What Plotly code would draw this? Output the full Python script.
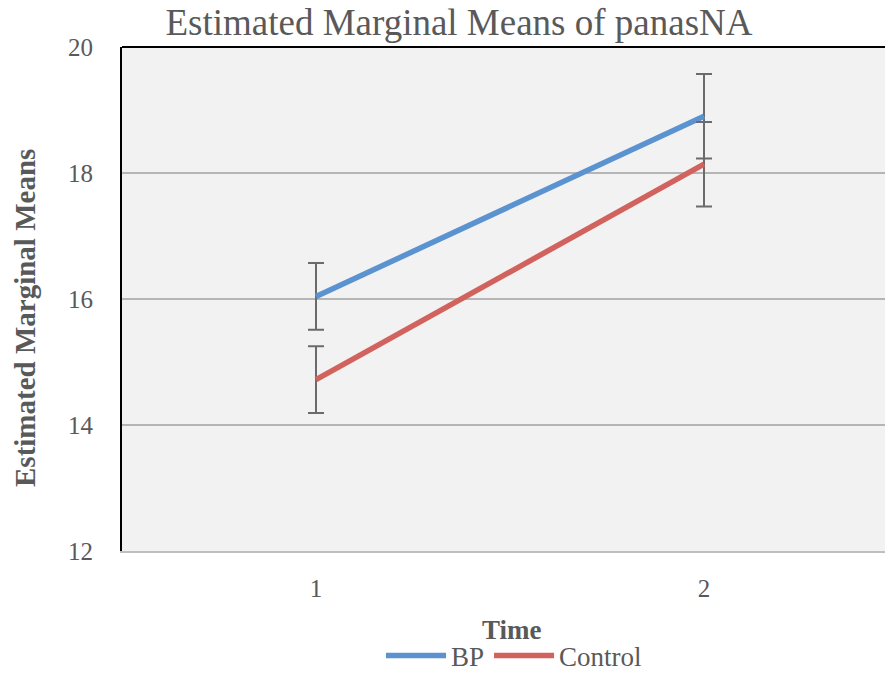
import plotly.graph_objects as go

# Estimated marginal means of panasNA by time and group
times = [1, 2]
time_labels = ["1", "2"]
bp_means = [16.04, 18.90]
bp_err = [0.53, 0.67]
control_means = [14.72, 18.14]
control_err = [0.53, 0.67]
y_ticks = [12, 14, 16, 18, 20]

FONT = "Liberation Serif"
TEXT_COLOR = "#595959"
ERR_COLOR = "#6b6b6b"

fig = go.Figure()

fig.add_trace(go.Scatter(
    x=times, y=bp_means, name="BP", mode="lines",
    line=dict(color="#5B92D0", width=5.5),
    error_y=dict(type="data", array=bp_err, color=ERR_COLOR, thickness=2, width=8),
))
fig.add_trace(go.Scatter(
    x=times, y=control_means, name="Control", mode="lines",
    line=dict(color="#D2625D", width=5.5),
    error_y=dict(type="data", array=control_err, color=ERR_COLOR, thickness=2, width=8),
))

fig.update_layout(
    width=885, height=675,
    margin=dict(l=122, r=0, t=47, b=124, autoexpand=False),
    paper_bgcolor="white",
    plot_bgcolor="#F2F2F2",
    font=dict(family=FONT, color=TEXT_COLOR, size=25),
    title=dict(
        text="Estimated Marginal Means of panasNA",
        font=dict(family=FONT, size=37, color=TEXT_COLOR),
        x=459 / 885, xanchor="center", xref="container",
        y=1 - 22 / 675, yanchor="middle", yref="container",
    ),
    showlegend=True,
    legend=dict(
        orientation="h", x=514 / 885, xanchor="center", xref="container",
        y=1 - 656 / 675, yanchor="middle", yref="container",
        font=dict(family=FONT, size=27, color=TEXT_COLOR),
        bgcolor="rgba(0,0,0,0)", itemwidth=60, tracegroupgap=0,
    ),
)

fig.update_xaxes(
    range=[0.5, 0.5 + 763 / 388],
    tickmode="array", tickvals=times, ticktext=time_labels,
    showgrid=False, zeroline=False,
    showline=True, linecolor="#BFBFBF", linewidth=2,
    ticks="", ticklabelstandoff=14, automargin=False,
    tickfont=dict(family=FONT, size=25, color=TEXT_COLOR),
)
fig.update_yaxes(
    range=[12, 20], tickmode="array", tickvals=y_ticks,
    showgrid=True, gridcolor="#B5B5B5", gridwidth=1.5,
    zeroline=False,
    showline=True, linecolor="black", linewidth=2,
    ticks="", ticklabelstandoff=22, automargin=False,
    tickfont=dict(family=FONT, size=25, color=TEXT_COLOR),
)

# top border of the plotting area
fig.add_shape(type="line", xref="paper", yref="paper", x0=0, x1=1, y0=1, y1=1,
              line=dict(color="black", width=2))

# axis titles
fig.add_annotation(
    text="<b>Estimated Marginal Means</b>", textangle=-90,
    xref="paper", yref="paper", x=(25 - 122) / 763, y=(551 - 318) / 504,
    xanchor="center", yanchor="middle", showarrow=False,
    font=dict(family=FONT, size=29, color=TEXT_COLOR),
)
fig.add_annotation(
    text="<b>Time</b>",
    xref="paper", yref="paper", x=(512 - 122) / 763, y=(551 - 630) / 504,
    xanchor="center", yanchor="middle", showarrow=False,
    font=dict(family=FONT, size=27, color=TEXT_COLOR),
)

fig.write_html("out.html")
